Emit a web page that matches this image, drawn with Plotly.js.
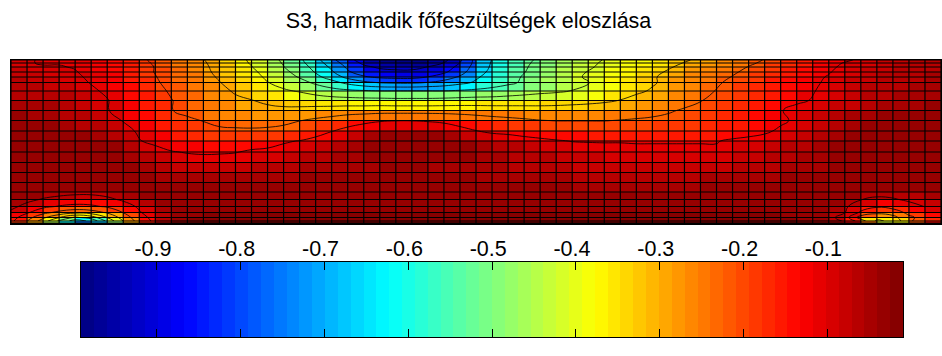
<!DOCTYPE html>
<html><head><meta charset="utf-8">
<script src="https://cdn.plot.ly/plotly-3.0.1.min.js"></script>
<style>html,body{margin:0;padding:0;background:#fff}#c{width:942px;height:356px}</style>
</head><body><div id="c"></div>
<script>
const titleText = "S3, harmadik főfeszültségek eloszlása";
const barTicks = [-0.9,-0.8,-0.7,-0.6,-0.5,-0.4,-0.3,-0.2,-0.1];
const barTickText = ["-0.9","-0.8","-0.7","-0.6","-0.5","-0.4","-0.3","-0.2","-0.1"];
const zLow = -0.9906, zHigh = -0.0098;
const contourLevels = [-0.1025,-0.2025,-0.3025,-0.4025,-0.5025,-0.6025,-0.7025,-0.8025,-0.9025];
const xMesh = Array.from({length:59},(_, i)=>i);
const yMesh = [0,3,7,12,17,22.5,31,40.5,50.5,60.5,71,81,92,102.5,112.5,122.5,132,139.5,146.5,152.5,157.5,161,163];
// magnitude of S3 at mesh nodes, one row per mesh line, top to bottom
const r00=[.095,.10,.105,.105,.11,.125,.14,.16,.19,.215, .245,.27,.30,.335,.375,.415,.46,.52,.585,.67, .78,.87,.95,.98,.985,.985,.97,.93,.82,.67, .60,.555,.52,.49,.46,.44,.42,.40,.39,.38, .36,.33,.31,.29,.27,.25,.22,.20,.17,.16, .14,.125,.11,.095,.085,.08,.07,.065];
const r01=[.09,.10,.105,.105,.11,.125,.14,.16,.185,.21, .24,.265,.295,.33,.37,.41,.455,.51,.575,.655, .75,.85,.92,.955,.96,.96,.94,.90,.80,.67, .595,.55,.515,.485,.455,.435,.415,.395,.385,.37, .35,.32,.30,.28,.26,.24,.215,.19,.165,.15, .13,.115,.10,.09,.08,.07,.07,.065];
const r02=[.085,.095,.10,.10,.105,.12,.135,.155,.18,.205, .235,.26,.29,.325,.36,.40,.445,.50,.555,.635, .72,.82,.885,.915,.925,.925,.90,.86,.77,.66, .59,.545,.51,.48,.45,.43,.41,.39,.375,.36, .335,.31,.285,.265,.245,.225,.20,.18,.155,.14, .125,.11,.095,.085,.075,.07,.065,.06];
const r03=[.075,.085,.09,.095,.10,.115,.13,.15,.18,.205, .23,.255,.285,.32,.35,.385,.43,.48,.535,.61, .69,.79,.85,.875,.885,.885,.86,.82,.74,.64, .58,.54,.505,.475,.445,.42,.40,.38,.365,.345, .32,.295,.27,.25,.23,.21,.19,.17,.15,.135, .12,.105,.09,.08,.07,.065,.06,.055];
const r04=[.07,.08,.08,.09,.095,.11,.125,.15,.175,.20, .225,.25,.28,.31,.34,.375,.415,.46,.51,.575, .645,.73,.79,.82,.83,.83,.80,.75,.69,.615, .565,.53,.495,.465,.44,.415,.395,.375,.35,.33, .31,.285,.26,.24,.22,.20,.18,.16,.14,.125, .11,.10,.085,.075,.07,.06,.06,.055];
const r05=[.065,.07,.075,.08,.09,.105,.12,.145,.17,.195, .22,.245,.27,.30,.33,.36,.40,.435,.47,.52, .57,.63,.68,.71,.72,.72,.70,.67,.63,.59, .55,.52,.49,.47,.445,.425,.405,.385,.36,.335, .31,.285,.26,.235,.21,.19,.17,.155,.14,.12, .11,.095,.085,.07,.065,.06,.055,.05];
const r06=[.06,.06,.065,.07,.085,.095,.11,.135,.16,.185, .21,.235,.26,.285,.31,.335,.36,.39,.41,.44, .465,.48,.49,.50,.50,.50,.50,.50,.49,.48, .47,.455,.44,.425,.415,.40,.38,.36,.34,.315, .295,.27,.245,.22,.20,.18,.165,.15,.135,.115, .105,.09,.08,.07,.06,.055,.05,.045];
const r07=[.05,.05,.055,.065,.075,.09,.10,.125,.15,.175, .20,.225,.25,.27,.29,.30,.315,.33,.34,.35, .36,.365,.37,.37,.375,.375,.375,.37,.365,.36, .36,.355,.35,.345,.34,.335,.325,.315,.30,.28, .265,.245,.225,.205,.19,.17,.155,.14,.125,.11, .10,.085,.075,.065,.055,.05,.045,.04];
const r08=[.04,.045,.05,.06,.07,.085,.10,.12,.145,.17, .20,.22,.24,.26,.27,.28,.285,.285,.28,.27, .26,.25,.245,.24,.24,.24,.24,.24,.24,.245, .25,.255,.26,.265,.265,.26,.26,.255,.245,.235, .225,.21,.195,.18,.165,.15,.135,.12,.105,.09, .08,.065,.055,.045,.04,.035,.035,.03];
const r09=[.03,.035,.04,.05,.06,.07,.085,.105,.13,.155, .175,.19,.205,.22,.23,.235,.235,.225,.205,.185, .165,.14,.125,.11,.105,.105,.11,.12,.14,.155, .17,.18,.19,.20,.205,.205,.205,.205,.20,.195, .19,.185,.18,.17,.16,.15,.14,.125,.11,.095, .08,.065,.05,.04,.035,.03,.03,.03];
const r10=[.03,.03,.03,.035,.04,.05,.06,.085,.11,.13, .15,.165,.18,.19,.19,.19,.185,.175,.16,.135, .105,.08,.055,.04,.035,.035,.04,.05,.075,.10, .115,.12,.13,.135,.14,.145,.15,.15,.15,.15, .15,.15,.15,.15,.14,.13,.12,.11,.095,.08, .06,.05,.04,.035,.03,.03,.03,.03];
const r11=[.03,.03,.03,.03,.03,.035,.04,.07,.10,.115, .125,.13,.14,.14,.135,.13,.125,.11,.10,.08, .065,.05,.04,.035,.035,.035,.035,.035,.04,.05, .06,.07,.08,.09,.098,.104,.105,.105,.105,.105, .105,.105,.105,.105,.105,.095,.09,.085,.07,.06, .05,.04,.035,.03,.03,.03,.03,.03];
const r12=[.03,.03,.03,.03,.03,.03,.035,.045,.06,.085, .10,.105,.108,.108,.105,.095,.09,.08,.07,.06, .055,.05,.04,.04,.04,.04,.04,.04,.04,.05, .055,.06,.065,.07,.075,.08,.085,.09,.09,.095, .095,.095,.095,.095,.095,.085,.08,.07,.06,.05, .045,.04,.035,.03,.03,.03,.03,.03];
const r13=[.03,.03,.03,.03,.03,.03,.035,.04,.05,.07, .08,.085,.085,.08,.075,.07,.065,.06,.055,.05, .05,.045,.045,.04,.04,.04,.045,.045,.045,.05, .055,.06,.065,.07,.07,.075,.08,.08,.08,.08, .08,.08,.08,.075,.075,.07,.065,.06,.055,.05, .045,.04,.035,.03,.03,.03,.03,.03];
const r14=[.03,.03,.03,.03,.03,.03,.035,.04,.04,.045, .05,.05,.05,.05,.05,.05,.045,.045,.04,.04, .04,.04,.04,.04,.04,.04,.04,.04,.04,.045, .05,.05,.05,.055,.055,.06,.06,.06,.06,.06, .06,.06,.06,.055,.055,.05,.05,.045,.04,.04, .035,.03,.03,.03,.03,.03,.03,.03];
const r15=[.03,.03,.03,.03,.035,.035,.035,.035,.04,.04, .04,.04,.04,.04,.04,.04,.04,.04,.035,.035, .035,.035,.035,.035,.035,.035,.035,.035,.035,.04, .04,.04,.04,.04,.04,.045,.045,.045,.045,.045, .045,.045,.045,.04,.04,.04,.04,.035,.035,.03, .03,.03,.03,.03,.035,.035,.035,.03];
const r16=[.03,.04,.06,.07,.08,.08,.07,.05,.04,.035, .035,.035,.035,.035,.035,.035,.035,.035,.03,.03, .03,.03,.03,.03,.03,.03,.03,.03,.03,.03, .035,.035,.035,.035,.035,.035,.035,.035,.035,.035, .035,.035,.035,.035,.035,.03,.03,.03,.03,.03, .03,.03,.04,.06,.07,.07,.06,.05];
const r17=[.05,.08,.11,.13,.14,.14,.12,.09,.06,.04, .03,.03,.03,.03,.03,.03,.03,.03,.03,.03, .03,.03,.03,.03,.03,.03,.03,.03,.03,.03, .03,.03,.03,.03,.03,.03,.03,.03,.03,.03, .03,.03,.03,.03,.03,.03,.03,.03,.03,.03, .03,.04,.06,.10,.12,.11,.09,.08];
const r18=[.08,.13,.18,.21,.23,.22,.19,.14,.09,.05, .03,.03,.03,.03,.03,.03,.03,.03,.03,.03, .03,.03,.03,.03,.03,.03,.03,.03,.03,.03, .03,.03,.03,.03,.03,.03,.03,.03,.03,.03, .03,.03,.03,.03,.03,.03,.03,.03,.03,.03, .035,.05,.09,.15,.19,.17,.13,.10];
const r19=[.12,.19,.27,.33,.37,.35,.29,.20,.11,.06, .03,.03,.025,.025,.025,.025,.025,.025,.025,.025, .025,.025,.025,.025,.025,.025,.025,.025,.025,.025, .025,.025,.025,.025,.025,.025,.025,.025,.025,.025, .025,.025,.025,.025,.025,.025,.025,.025,.03,.03, .04,.06,.10,.22,.28,.25,.18,.14];
const r20=[.16,.26,.38,.50,.62,.56,.40,.26,.14,.07, .03,.025,.025,.025,.025,.025,.025,.025,.025,.025, .025,.025,.025,.025,.025,.025,.025,.025,.025,.025, .025,.025,.025,.025,.025,.025,.025,.025,.025,.025, .025,.025,.025,.025,.025,.025,.025,.025,.025,.03, .04,.07,.15,.35,.37,.34,.22,.17];
const r21=[.18,.30,.45,.62,.75,.68,.48,.30,.16,.08, .03,.025,.025,.025,.025,.025,.025,.025,.025,.025, .025,.025,.025,.025,.025,.025,.025,.025,.025,.025, .025,.025,.025,.025,.025,.025,.025,.025,.025,.025, .025,.025,.025,.025,.025,.025,.025,.025,.025,.03, .05,.07,.11,.25,.42,.38,.22,.14];
const rows=[r00,r01,r02,r03,r04,r05,r06,r07,r08,r09,r10,r11,r12,r13,r14,r15,r16,r17,r18,r19,r20,r21];
const z=rows.map(r=>r.map(v=>-v));

// 64-step jet
const clamp=v=>Math.max(0,Math.min(1,v));
const steps=64, jet=[], barZ=[], barX=[];
for(let i=0;i<steps;i++){
  const t=(i+.5)/steps;
  const c=`rgb(${Math.round(255*clamp(Math.min(4*t-1.5,-4*t+4.5)))},${Math.round(255*clamp(Math.min(4*t-.5,-4*t+3.5)))},${Math.round(255*clamp(Math.min(4*t+.5,-4*t+2.5)))})`;
  jet.push([i/steps,c],[(i+1)/steps,c]);
  barZ.push(zLow+(zHigh-zLow)*t);
}
for(let i=0;i<=steps;i++) barX.push(zLow+(zHigh-zLow)*i/steps);

// mesh lines
const mx=[],my=[];
xMesh.forEach(x=>{mx.push(x,x,null);my.push(yMesh[0],yMesh[yMesh.length-1],null);});
yMesh.forEach(y=>{mx.push(xMesh[0],xMesh[xMesh.length-1],null);my.push(y,y,null);});

const traces=[
 {type:'heatmap',x:xMesh,y:yMesh,z:z,zmin:zLow,zmax:zHigh,colorscale:jet,showscale:false,zsmooth:false,hoverinfo:'skip'},
 {type:'scatter',mode:'lines',x:mx,y:my,line:{color:'#000',width:1.2},hoverinfo:'skip',showlegend:false}
];
contourLevels.forEach(l=>traces.push({type:'contour',x:xMesh.slice(0,-1),y:yMesh.slice(0,-1),z:z,autocontour:false,
  contours:{coloring:'none',start:l,end:l,size:1,showlabels:false},line:{color:'#000',width:0.8,smoothing:1.3},showscale:false,hoverinfo:'skip'}));
traces.push({type:'heatmap',x:barX,y:[0,1],z:[barZ],zmin:zLow,zmax:zHigh,colorscale:jet,showscale:false,xaxis:'x2',yaxis:'y2',hoverinfo:'skip'});

const W=942,H=356;
const font="'Liberation Sans',Arial,sans-serif";
const frame={showline:true,linecolor:'#000',linewidth:1,mirror:true,showgrid:false,zeroline:false};
Plotly.newPlot('c',traces,{
 width:W,height:H,paper_bgcolor:'#fff',plot_bgcolor:'#fff',showlegend:false,
 margin:{l:0,r:0,t:0,b:0},
 font:{family:font,color:'#000',size:21.5},
 title:{text:titleText,font:{family:font,size:21.5,color:'#000'},xref:'container',yref:'container',x:468.5/W,xanchor:'center',y:1-20/H,yanchor:'middle'},
 xaxis:Object.assign({},frame,{domain:[11/W,941/W],range:[0,58],showticklabels:false,ticks:'',anchor:'y',linewidth:1.5}),
 yaxis:Object.assign({},frame,{domain:[1-223/H,1-60/H],range:[163,0],showticklabels:false,ticks:'',anchor:'x',linewidth:1.5}),
 xaxis2:Object.assign({},frame,{mirror:'allticks',domain:[81/W,903/W],range:[zLow,zHigh],anchor:'y2',side:'top',tickmode:'array',tickvals:barTicks,ticktext:barTickText,ticks:'inside',ticklen:8,tickcolor:'#000',tickfont:{family:font,size:21.5,color:'#000'},ticklabelshift:-4,ticklabelstandoff:-4}),
 yaxis2:Object.assign({},frame,{domain:[1-337/H,1-262/H],range:[0,1],showticklabels:false,ticks:'',anchor:'x2'})
},{staticPlot:true,displayModeBar:false});
</script></body></html>
